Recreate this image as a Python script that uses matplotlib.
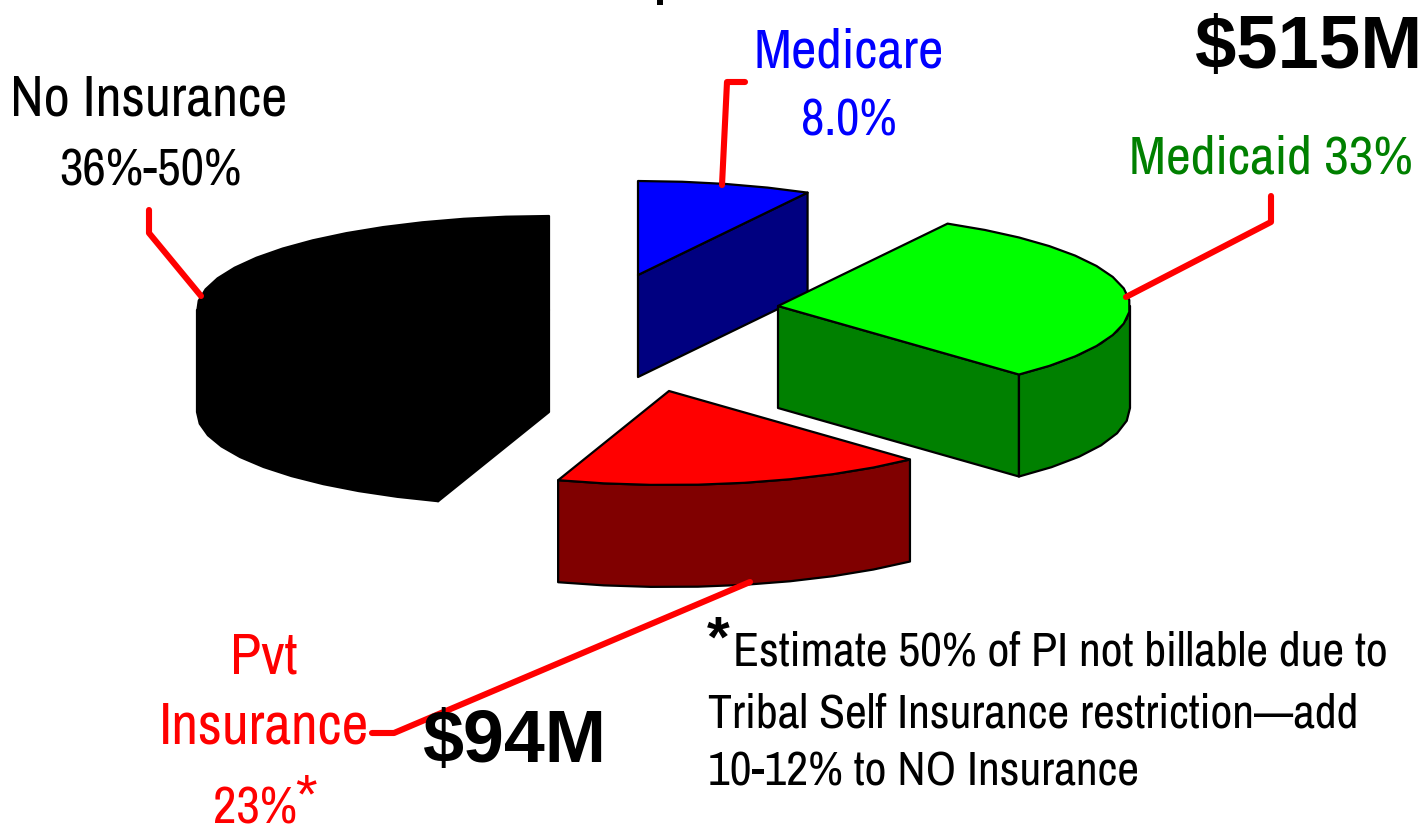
import numpy as np
import matplotlib
matplotlib.use('Agg')
import matplotlib.pyplot as plt

# shares of the drawn slices
slices = ['Medicare', 'Medicaid', 'Pvt Insurance', 'No Insurance']
shares = [8.0, 30.0, 17.1, 44.9]

# look of the pie
apex = [(638, 275), (778, 306), (669, 391), (549, 310)]
top_col = ['#0000ff', '#00ff00', '#ff0000', '#000000']
side_col = ['#000080', '#008000', '#800000', '#000000']
RX, RY, DEPTH = 352, 94, 102
NARROW = 'Archivo Narrow'
BOLD = 'Liberation Sans'


def arc(c, t0, t1, dy=0):
    n = max(2, int(abs(t1 - t0) / 7))
    t = np.radians(np.linspace(t0, t1, n + 1))
    return np.column_stack([c[0] + RX * np.cos(t), c[1] - RY * np.sin(t) + dy])


def draw_slice(ax, c, t0, t1, top, side):
    # t0 > t1, going clockwise
    kw = dict(facecolor=side, edgecolor='black', lw=1.6, joinstyle='round')
    # cut faces that look towards the viewer
    for t, show in ((t1, np.cos(np.radians(t1)) > 0.01), (t0, np.cos(np.radians(t0)) < -0.01)):
        if show:
            p = arc(c, t, t)[0]
            ax.fill([c[0], p[0], p[0], c[0]], [c[1], p[1], p[1] + DEPTH, c[1] + DEPTH], **kw)
    # outer wall, the front part of the rim only
    a, b = min(t0, 0), max(t1, -180)
    if a > b:
        pts = np.vstack([arc(c, a, b), arc(c, b, a, DEPTH)])
        ax.fill(pts[:, 0], pts[:, 1], **kw)
    pts = np.vstack([[c], arc(c, t0, t1)])
    ax.fill(pts[:, 0], pts[:, 1], facecolor=top, edgecolor='black', lw=1.6, joinstyle='round')


fig = plt.figure(figsize=(14.25, 8.27), dpi=100)
ax = fig.add_axes([0, 0, 1, 1])
ax.set_xlim(0, 1425)
ax.set_ylim(827, 0)
ax.axis('off')

angle = 90.0
order = []
for i, s in enumerate(shares):
    order.append((i, angle, angle - s * 3.6))
    angle -= s * 3.6
for i, t0, t1 in [order[3], order[0], order[1], order[2]]:
    draw_slice(ax, apex[i], t0, t1, top_col[i], side_col[i])

# leader lines
lead = dict(color='#ff0000', lw=4.4, solid_joinstyle='round', solid_capstyle='round')
ax.plot([745, 727, 722], [82, 82, 185], **lead)
ax.plot([1271, 1271, 1126], [196, 222, 297], **lead)
ax.plot([149, 149, 201], [210, 233, 296], **lead)
ax.plot([372, 394, 750], [733, 733, 582], **lead)

# bit of the cut off title
ax.plot([660, 660], [0, 5], color='black', lw=4.3, solid_capstyle='butt')


def label(x, y, s, color='black', size=40, ha='center', family=NARROW, **kw):
    ax.text(x, y, s, color=color, fontsize=size, ha=ha, va='baseline', family=family, **kw)


label(849, 67, 'Medicare', '#0000ff')
label(849, 136, '8.0%', '#0000ff', size=37)
label(149, 116, 'No Insurance', size=41)
label(150, 185, '36%-50%', size=37)
label(1271, 174, 'Medicaid 33%', '#008000', size=39)
label(264, 674, 'Pvt', '#ff0000', size=41)
label(264, 743, 'Insurance', '#ff0000', size=42)
label(255, 824, '23%', '#ff0000', size=37)
label(306, 812, '*', '#ff0000', size=40, family=BOLD)
label(1422, 68, '$515M', size=53.5, ha='right', family=BOLD, weight='bold')
label(515, 762, '$94M', size=53, family=BOLD, weight='bold')
label(707, 657, '*', size=42, ha='left', family=BOLD, weight='bold')
label(733, 666, 'Estimate 50% of PI not billable due to', size=34.4, ha='left')
label(708, 727, 'Tribal Self Insurance restriction\u2014add', size=34.4, ha='left')
label(708, 786, '10-12% to NO Insurance', size=34.4, ha='left')

fig.savefig('out.png', dpi=100)
